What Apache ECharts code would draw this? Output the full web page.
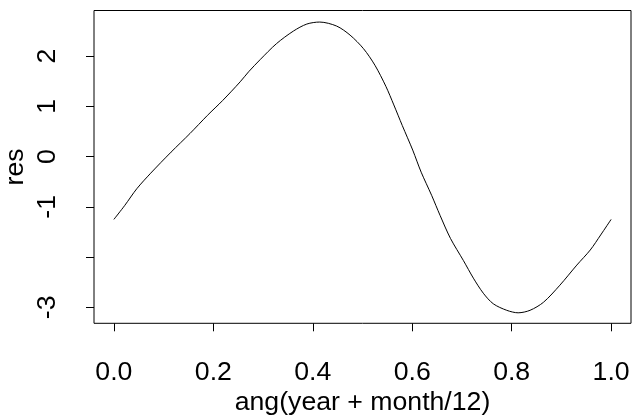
<!DOCTYPE html>
<html>
<head>
<meta charset="utf-8">
<script src="https://cdn.jsdelivr.net/npm/echarts@6/dist/echarts.min.js"></script>
<style>
  html, body { margin: 0; padding: 0; background: #fff; }
  #chart { width: 632px; height: 419px; }
</style>
</head>
<body>
<div id="chart"></div>
<script>
// curve
var angX = [0, 0.022, 0.046, 0.074, 0.115, 0.153, 0.188, 0.219, 0.254, 0.271, 0.294, 0.327,
    0.361, 0.388, 0.414, 0.448, 0.475, 0.502, 0.525, 0.547, 0.563, 0.580,
    0.601, 0.618, 0.639, 0.656, 0.677, 0.703, 0.723, 0.743, 0.763, 0.790, 0.813,
    0.837, 0.864, 0.897, 0.931, 0.958, 0.979, 1.0];
var res = [-1.25, -0.97, -0.64, -0.33, 0.09, 0.46, 0.82, 1.12, 1.49, 1.69, 1.93, 2.25,
    2.50, 2.64, 2.68, 2.60, 2.42, 2.15, 1.82, 1.40, 1.03, 0.62,
    0.13, -0.31, -0.77, -1.17, -1.63, -2.07, -2.42, -2.72, -2.93, -3.06, -3.11,
    -3.06, -2.90, -2.56, -2.16, -1.86, -1.56, -1.25];

var xTicks = [0, 0.2, 0.4, 0.6, 0.8, 1.0];
var yTicks = [-3, -2, -1, 0, 1, 2];
var yLabels = [-3, -1, 0, 1, 2];

var chart = echarts.init(document.getElementById('chart'));

var font = 'Liberation Sans, Arial, Helvetica, sans-serif';
var fs = 26.67;

var pts = [];
for (var i = 0; i < angX.length; i++) {
    pts.push([angX[i], res[i]]);
}

option = {
    animation: false,
    backgroundColor: '#fff',
    grid: {
        left: 94,
        right: 1,
        top: 10.5,
        bottom: 95.7,
        outerBoundsMode: 'none',
        containLabel: false,
        show: true,
        borderColor: '#000',
        borderWidth: 1
    },
    xAxis: {
        type: 'value',
        min: -0.04,
        max: 1.04,
        name: 'ang(year + month/12)',
        nameLocation: 'middle',
        nameGap: 66,
        nameMoveOverlap: false,
        nameTextStyle: { color: '#000', fontSize: fs, fontFamily: font },
        axisLine: { show: false, onZero: false },
        splitLine: { show: false },
        axisTick: {
            show: true,
            length: 8,
            customValues: xTicks,
            lineStyle: { color: '#000', width: 1 }
        },
        axisLabel: {
            customValues: xTicks,
            margin: 36,
            color: '#000',
            fontSize: fs,
            fontFamily: font,
            formatter: function(v) { return v.toFixed(1); }
        }
    },
    yAxis: {
        type: 'value',
        min: -3.319,
        max: 2.91,
        name: 'res',
        nameLocation: 'middle',
        nameRotate: 90,
        nameGap: 65,
        nameMoveOverlap: false,
        nameTextStyle: { color: '#000', fontSize: fs, fontFamily: font },
        axisLine: { show: false, onZero: false },
        splitLine: { show: false },
        axisTick: {
            show: true,
            length: 8,
            customValues: yTicks,
            lineStyle: { color: '#000', width: 1 }
        },
        axisLabel: {
            customValues: yLabels,
            rotate: 90,
            align: 'center',
            verticalAlign: 'middle',
            margin: 46,
            color: '#000',
            fontSize: fs,
            fontFamily: font,
            formatter: function(v) { return String(v); }
        }
    },
    series: [{
        type: 'line',
        data: pts,
        showSymbol: false,
        smooth: 0.3,
        lineStyle: { color: '#000', width: 1 }
    }]
};

chart.setOption(option);
</script>
</body>
</html>
